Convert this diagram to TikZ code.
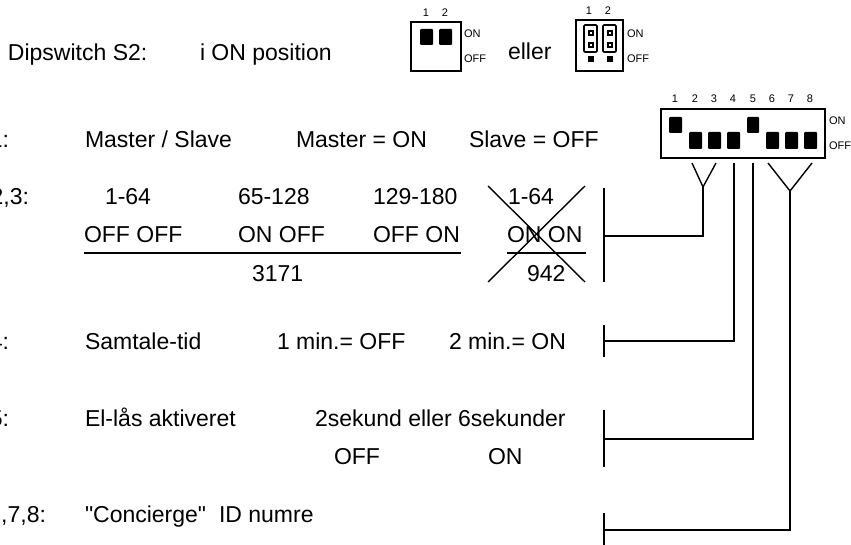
\documentclass[tikz,border=0pt]{standalone}
\usepackage{fontspec}
\setmainfont{Liberation Sans}[Ligatures=TeXOff]
\newcommand{\bigt}{\fontsize{23}{26}\selectfont}
\newcommand{\smallt}{\fontsize{11}{13}\selectfont}
\tikzset{
 txt/.style={anchor=base west,inner sep=0pt,outer sep=0pt,font=\bigt},
 txtr/.style={anchor=base east,inner sep=0pt,outer sep=0pt,font=\bigt},
 tiny/.style={anchor=center,inner sep=0pt,outer sep=0pt,font=\smallt},
 tinyl/.style={anchor=west,inner sep=0pt,outer sep=0pt,font=\smallt},
 wire/.style={draw=black,line width=1.4pt},
 rule/.style={draw=black,line width=1.9pt},
 boxline/.style={draw=black,line width=1.6pt},
 knob/.style={fill=black,rounded corners=1pt}
}
\begin{document}
\begin{tikzpicture}[x=1pt,y=-1pt]
\useasboundingbox (0,0) rectangle (851,545);
\clip (0,0) rectangle (851,545);
% header
\node[txt] (h1) at (8,61) {Dipswitch S2:};
\node[txt] (h2) at (200,61) {i ON position};
\node[txt] (h3) at (508,60) {eller};
% small switch A
\draw[boxline] (411,22) rectangle (461,71);
\fill[knob] (420,29) rectangle (433,45);
\fill[knob] (439,29) rectangle (452,45);
\node[tiny] (a1) at (426,13) {1};
\node[tiny] (a2) at (445,13) {2};
\node[tinyl] (aon) at (464,34) {ON};
\node[tinyl] (aoff) at (464,59) {OFF};
% small switch B
\draw[boxline] (576,20) rectangle (623,71);
\draw[boxline,rounded corners=1pt] (584,25) rectangle (597,52);
\draw[boxline,rounded corners=1pt] (603,25) rectangle (616,52);
\foreach \px in {590.5,609.5}{
  \foreach \py in {33,45,59}{
    \fill (\px-3,\py-3) rectangle (\px+3,\py+3);
  }
  \foreach \py in {33,45}{
    \fill[white] (\px-1,\py-1) rectangle (\px+1,\py+1);
  }
}
\node[tiny] (b1) at (589,11) {1};
\node[tiny] (b2) at (608,11) {2};
\node[tinyl] (bon) at (627,34) {ON};
\node[tinyl] (boff) at (627,59) {OFF};
% big switch
\draw[boxline] (661,109) rectangle (825,158);
\fill[knob] (669,117) rectangle (682,133);
\fill[knob] (689,132) rectangle (702,149);
\fill[knob] (708,132) rectangle (721,149);
\fill[knob] (727,132) rectangle (740,149);
\fill[knob] (747,117) rectangle (759,133);
\fill[knob] (766,132) rectangle (779,149);
\fill[knob] (785,132) rectangle (798,149);
\fill[knob] (804,132) rectangle (817,149);
\foreach \n/\px in {1/675,2/695,3/714,4/733,5/753,6/772,7/791,8/810}{
  \node[tiny] (s\n) at (\px,99) {\n};
}
\node[tinyl] (con) at (829,121) {ON};
\node[tinyl] (coff) at (829,146) {OFF};
% rows
\node[txtr] (r1) at (9,148) {1:};
\node[txt] (r1a) at (85,148) {Master / Slave};
\node[txt] (r1b) at (296,148) {Master = ON};
\node[txt] (r1c) at (469,148) {Slave = OFF};
\node[txtr] (r2) at (29,205) {2,3:};
\node[txt] (r2a) at (105,205) {1-64};
\node[txt] (r2b) at (238,205) {65-128};
\node[txt] (r2c) at (373,205) {129-180};
\node[txt] (r2d) at (508,205) {1-64};
\node[txt] (r3a) at (84,243) {OFF OFF};
\node[txt] (r3b) at (238,243) {ON OFF};
\node[txt] (r3c) at (373,243) {OFF ON};
\node[txt] (r3d) at (507,243) {ON ON};
\node[txt] (r4a) at (252,282) {3171};
\node[txt] (r4b) at (527,282) {942};
\node[txtr] (r5) at (9,349) {4:};
\node[txt] (r5a) at (85,349) {Samtale-tid};
\node[txt] (r5b) at (277,349) {1 min.= OFF};
\node[txt] (r5c) at (449,349) {2 min.= ON};
\node[txtr] (r6) at (9,426) {5:};
\node[txt] (r6a) at (85,426) {El-lås aktiveret};
\node[txt] (r6b) at (315,426) {2sekund eller 6sekunder};
\node[txt] (r7b) at (334,464) {OFF};
\node[txt] (r7c) at (488,464) {ON};
\node[txtr] (r8) at (46,522) {6,7,8:};
\node[txt] (r8a) at (85,522) {"Concierge"\hspace{6.5pt} ID numre};
% table rule and cross
\coordinate (ua) at (84,253); \coordinate (ub) at (461,253);
\coordinate (uc) at (507,253); \coordinate (ud) at (586,253);
\draw[rule] (ua) -- (ub);
\draw[rule] (uc) -- (ud);
\coordinate (xa) at (488,186); \coordinate (xb) at (585,282);
\coordinate (xc) at (585,186); \coordinate (xd) at (488,282);
\draw[wire] (xa) -- (xb);
\draw[wire] (xc) -- (xd);
% brackets
\coordinate (b1t) at (604,188); \coordinate (b1b) at (604,282);
\coordinate (b2t) at (604,325); \coordinate (b2b) at (604,357);
\coordinate (b3t) at (604,410); \coordinate (b3b) at (604,467);
\coordinate (b4t) at (604,513); \coordinate (b4b) at (604,545);
\draw[wire] (b1t) -- (b1b);
\draw[wire] (b2t) -- (b2b);
\draw[wire] (b3t) -- (b3b);
\draw[wire] (b4t) -- (b4b);
% connectors
\coordinate (y1a) at (692,163); \coordinate (y1b) at (716,163); \coordinate (y1) at (703,187);
\coordinate (y2a) at (768,163); \coordinate (y2b) at (812,163); \coordinate (y2) at (790,191);
\draw[wire] (y1a) -- (y1) -- (y1b);
\draw[wire] (y2a) -- (y2) -- (y2b);
\draw[wire] (y1) |- (604,236);
\draw[wire] (734,163) |- (604,341);
\draw[wire] (753,163) |- (604,439);
\draw[wire] (y2) |- (604,530);
\end{tikzpicture}
\end{document}
